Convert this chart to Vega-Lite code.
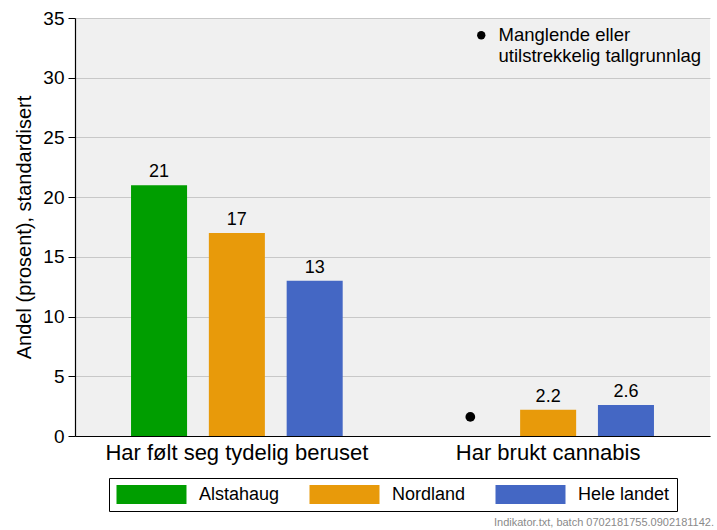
{
  "$schema": "https://vega.github.io/schema/vega-lite/v6.json",
  "autosize": {"type": "none"},
  "width": 635,
  "height": 418,
  "padding": {"left": 75, "top": 18, "right": 7, "bottom": 94},
  "background": "white",
  "config": {
    "font": "Liberation Sans",
    "view": {"fill": "#f0f0f0", "stroke": null},
    "axis": {"labelFont": "Liberation Sans", "titleFont": "Liberation Sans", "labelColor": "black", "titleColor": "black", "titleFontWeight": "normal"},
    "legend": {"labelFont": "Liberation Sans", "layout": {"bottom": {"anchor": "middle"}}}
  },
  "title": {
    "text": "Indikator.txt, batch 0702181755.0902181142.",
    "orient": "bottom",
    "anchor": "end",
    "fontSize": 11,
    "fontWeight": "normal",
    "color": "#8a8a8a",
    "offset": 5,
    "dx": 4
  },
  "data": {
    "values": [
      {"gruppe": "Har følt seg tydelig beruset", "omrade": "Alstahaug", "andel": 21, "etikett": "21", "mangler": false},
      {"gruppe": "Har følt seg tydelig beruset", "omrade": "Nordland", "andel": 17, "etikett": "17", "mangler": false},
      {"gruppe": "Har følt seg tydelig beruset", "omrade": "Hele landet", "andel": 13, "etikett": "13", "mangler": false},
      {"gruppe": "Har brukt cannabis", "omrade": "Alstahaug", "andel": null, "etikett": "", "mangler": true},
      {"gruppe": "Har brukt cannabis", "omrade": "Nordland", "andel": 2.2, "etikett": "2.2", "mangler": false},
      {"gruppe": "Har brukt cannabis", "omrade": "Hele landet", "andel": 2.6, "etikett": "2.6", "mangler": false}
    ]
  },
  "encoding": {
    "x": {
      "field": "gruppe",
      "type": "nominal",
      "sort": ["Har følt seg tydelig beruset", "Har brukt cannabis"],
      "scale": {"paddingInner": 0, "paddingOuter": 0.02},
      "axis": {"title": null, "labelAngle": 0, "labelFontSize": 22, "labelPadding": 6, "labelLimit": 500, "ticks": false, "domainColor": "black", "domainWidth": 1.2, "grid": false}
    },
    "xOffset": {
      "field": "omrade",
      "type": "nominal",
      "sort": ["Alstahaug", "Nordland", "Hele landet"],
      "scale": {"paddingInner": 0.28, "paddingOuter": 0.64}
    }
  },
  "layer": [
    {
      "mark": {"type": "bar"},
      "encoding": {
        "y": {
          "field": "andel",
          "type": "quantitative",
          "scale": {"domain": [0, 35], "nice": false},
          "axis": {"title": "Andel (prosent), standardisert", "titleFontSize": 20, "labelFontSize": 19, "values": [0, 5, 10, 15, 20, 25, 30, 35], "tickSize": 7, "tickColor": "black", "domainColor": "black", "domainWidth": 1.2, "gridColor": "#c8c8c8", "labelPadding": 4, "titlePadding": 8}
        },
        "color": {
          "field": "omrade",
          "type": "nominal",
          "sort": ["Alstahaug", "Nordland", "Hele landet"],
          "scale": {"domain": ["Alstahaug", "Nordland", "Hele landet"], "range": ["#009e00", "#e89a0a", "#4467c4"]},
          "legend": {
            "title": null,
            "orient": "bottom",
            "direction": "horizontal",
            "offset": 15,
            "strokeColor": "black",
            "fillColor": "white",
            "padding": 7,
            "symbolType": "M-3.684,-1H3.684V1H-3.684Z",
            "symbolSize": 361,
            "symbolOffset": 26,
            "symbolStrokeWidth": 0,
            "symbolOpacity": 1,
            "labelFontSize": 18,
            "labelColor": "black",
            "labelOffset": 38,
            "labelLimit": 300,
            "columnPadding": 29
          }
        }
      }
    },
    {
      "mark": {"type": "text", "dy": -8, "fontSize": 18, "color": "black", "baseline": "alphabetic"},
      "encoding": {
        "y": {"field": "andel", "type": "quantitative"},
        "text": {"field": "etikett"}
      }
    },
    {
      "transform": [{"filter": "datum.mangler"}],
      "mark": {"type": "point", "filled": true, "color": "black", "opacity": 1, "size": 95},
      "encoding": {
        "y": {"datum": 1.6},
        "shape": {
          "field": "merknad",
          "type": "nominal",
          "scale": {"domain": ["Manglende eller|utilstrekkelig tallgrunnlag"], "range": ["circle"]},
          "legend": {
            "title": null,
            "orient": "top-right",
            "offset": 8,
            "padding": 0,
            "symbolFillColor": "black",
            "symbolStrokeColor": "black",
            "symbolSize": 70,
            "labelFontSize": 18.5,
            "labelColor": "black",
            "labelLimit": 400,
            "labelExpr": "split(datum.label, '|')",
            "labelBaseline": "middle",
            "labelOffset": 8
          }
        }
      }
    }
  ]
}
